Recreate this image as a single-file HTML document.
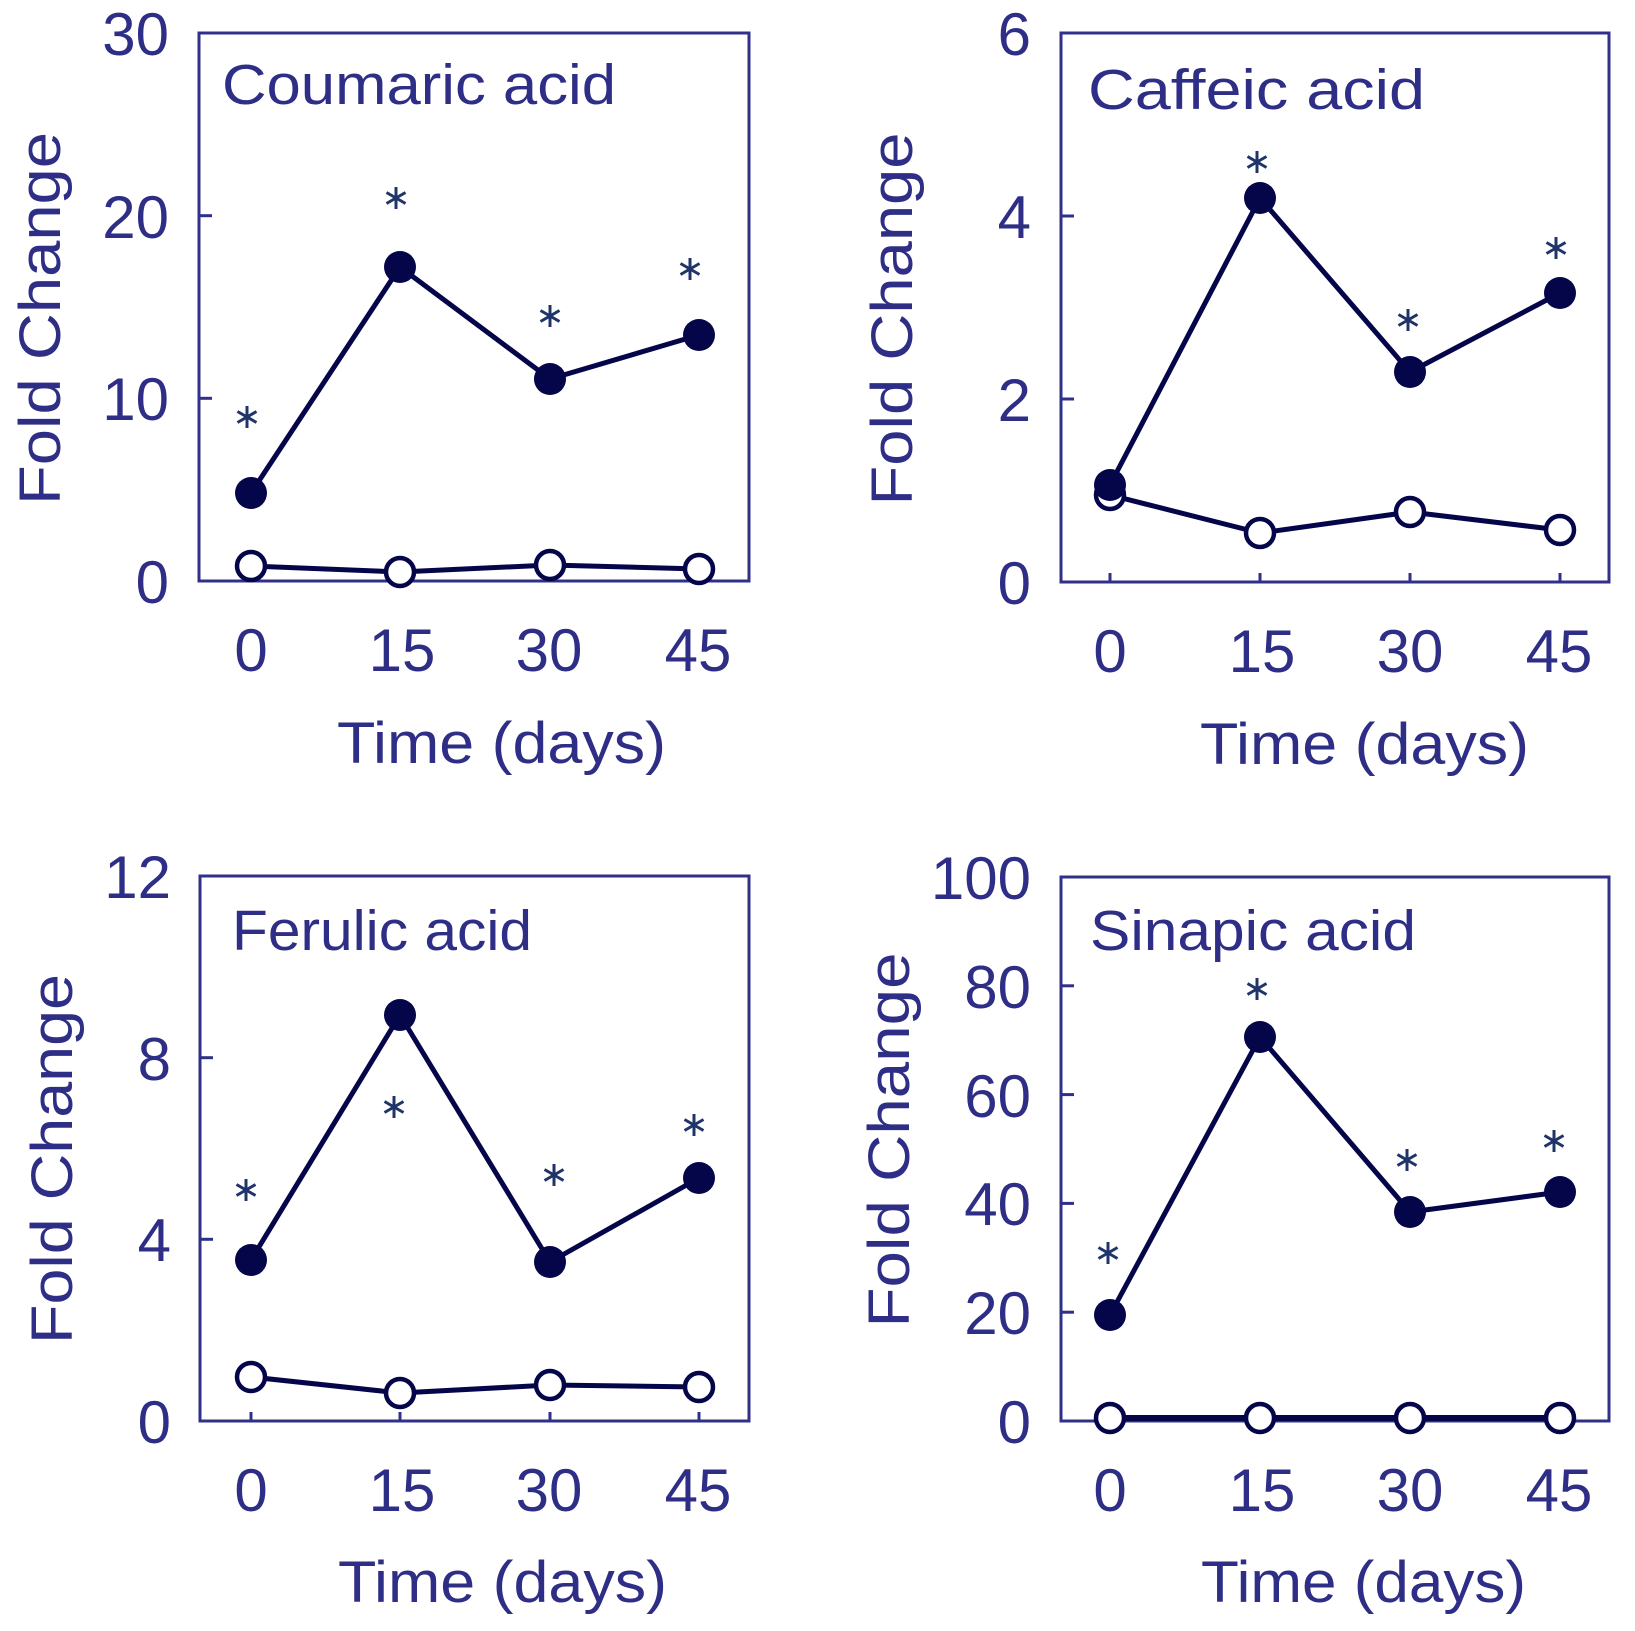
<!DOCTYPE html>
<html>
<head>
<meta charset="utf-8">
<style>
  html, body { margin: 0; padding: 0; background: #ffffff; }
  svg { display: block; }
  text { font-family: "Liberation Sans", "DejaVu Sans", sans-serif; fill: #2e2e86; }
</style>
</head>
<body>
<svg width="1635" height="1631" viewBox="0 0 1635 1631" xmlns="http://www.w3.org/2000/svg">
  <rect x="0" y="0" width="1635" height="1631" fill="#ffffff"/>

  <!-- ================= PANEL 1: Coumaric acid ================= -->
  <g>
    <rect x="199" y="33" width="550" height="548" fill="none" stroke="#30308a" stroke-width="3"/>
    <g stroke="#30308a" stroke-width="3">
      <line x1="199" y1="398.3" x2="212" y2="398.3"/>
      <line x1="199" y1="215.7" x2="212" y2="215.7"/>
      <line x1="251" y1="581" x2="251" y2="572"/>
      <line x1="400" y1="581" x2="400" y2="572"/>
      <line x1="550" y1="581" x2="550" y2="572"/>
      <line x1="699" y1="581" x2="699" y2="572"/>
    </g>
    <g font-size="60" text-anchor="end">
      <text x="169" y="603">0</text>
      <text x="169" y="420">10</text>
      <text x="169" y="238">20</text>
      <text x="169" y="55">30</text>
    </g>
    <g font-size="60" text-anchor="middle">
      <text x="251" y="671">0</text>
      <text x="402" y="671">15</text>
      <text x="549" y="671">30</text>
      <text x="698" y="671">45</text>
    </g>
    <text x="337" y="763" font-size="58" textLength="329" lengthAdjust="spacingAndGlyphs">Time (days)</text>
    <text transform="translate(60,318.5) rotate(-90)" font-size="58" text-anchor="middle" textLength="373" lengthAdjust="spacingAndGlyphs">Fold Change</text>
    <text x="222" y="104" font-size="57" textLength="394" lengthAdjust="spacingAndGlyphs">Coumaric acid</text>
    <polyline points="251,566 400,572 550,565 699,569" fill="none" stroke="#05054a" stroke-width="5" stroke-linejoin="round"/>
    <polyline points="251,493 400,267 550,379 699,335" fill="none" stroke="#05054a" stroke-width="5" stroke-linejoin="round"/>
    <g fill="#ffffff" stroke="#05054a" stroke-width="4.5">
      <circle cx="251" cy="566" r="14"/>
      <circle cx="400" cy="572" r="14"/>
      <circle cx="550" cy="565" r="14"/>
      <circle cx="699" cy="569" r="14"/>
    </g>
    <g fill="#05054a">
      <circle cx="251" cy="493" r="16"/>
      <circle cx="400" cy="267" r="16"/>
      <circle cx="550" cy="379" r="16"/>
      <circle cx="699" cy="335" r="16"/>
    </g>
  </g>

  <!-- ================= PANEL 2: Caffeic acid ================= -->
  <g>
    <rect x="1061" y="33" width="548" height="549" fill="none" stroke="#30308a" stroke-width="3"/>
    <g stroke="#30308a" stroke-width="3">
      <line x1="1061" y1="399" x2="1074" y2="399"/>
      <line x1="1061" y1="216" x2="1074" y2="216"/>
      <line x1="1110" y1="582" x2="1110" y2="573"/>
      <line x1="1260" y1="582" x2="1260" y2="573"/>
      <line x1="1410" y1="582" x2="1410" y2="573"/>
      <line x1="1560" y1="582" x2="1560" y2="573"/>
    </g>
    <g font-size="60" text-anchor="end">
      <text x="1031" y="604">0</text>
      <text x="1031" y="421">2</text>
      <text x="1031" y="238">4</text>
      <text x="1031" y="55">6</text>
    </g>
    <g font-size="60" text-anchor="middle">
      <text x="1110" y="672">0</text>
      <text x="1262" y="672">15</text>
      <text x="1410" y="672">30</text>
      <text x="1559" y="672">45</text>
    </g>
    <text x="1200" y="764" font-size="58" textLength="329" lengthAdjust="spacingAndGlyphs">Time (days)</text>
    <text transform="translate(912,319) rotate(-90)" font-size="58" text-anchor="middle" textLength="373" lengthAdjust="spacingAndGlyphs">Fold Change</text>
    <text x="1088" y="109" font-size="57" textLength="337" lengthAdjust="spacingAndGlyphs">Caffeic acid</text>
    <polyline points="1110,495 1260,533 1410,512 1560,530" fill="none" stroke="#05054a" stroke-width="5" stroke-linejoin="round"/>
    <polyline points="1110,485 1260,198 1410,372 1560,293" fill="none" stroke="#05054a" stroke-width="5" stroke-linejoin="round"/>
    <g fill="#ffffff" stroke="#05054a" stroke-width="4.5">
      <circle cx="1110" cy="495" r="14"/>
      <circle cx="1260" cy="533" r="14"/>
      <circle cx="1410" cy="512" r="14"/>
      <circle cx="1560" cy="530" r="14"/>
    </g>
    <g fill="#05054a">
      <circle cx="1110" cy="485" r="16"/>
      <circle cx="1260" cy="198" r="16"/>
      <circle cx="1410" cy="372" r="16"/>
      <circle cx="1560" cy="293" r="16"/>
    </g>
  </g>

  <!-- ================= PANEL 3: Ferulic acid ================= -->
  <g>
    <rect x="200" y="876" width="549" height="545" fill="none" stroke="#30308a" stroke-width="3"/>
    <g stroke="#30308a" stroke-width="3">
      <line x1="200" y1="1239.3" x2="213" y2="1239.3"/>
      <line x1="200" y1="1057.7" x2="213" y2="1057.7"/>
      <line x1="251" y1="1421" x2="251" y2="1412"/>
      <line x1="400" y1="1421" x2="400" y2="1412"/>
      <line x1="550" y1="1421" x2="550" y2="1412"/>
      <line x1="699" y1="1421" x2="699" y2="1412"/>
    </g>
    <g font-size="60" text-anchor="end">
      <text x="171" y="1443">0</text>
      <text x="171" y="1261">4</text>
      <text x="171" y="1080">8</text>
      <text x="171" y="898">12</text>
    </g>
    <g font-size="60" text-anchor="middle">
      <text x="251" y="1511">0</text>
      <text x="402" y="1511">15</text>
      <text x="549" y="1511">30</text>
      <text x="698" y="1511">45</text>
    </g>
    <text x="338" y="1602" font-size="58" textLength="329" lengthAdjust="spacingAndGlyphs">Time (days)</text>
    <text transform="translate(72,1159) rotate(-90)" font-size="58" text-anchor="middle" textLength="370" lengthAdjust="spacingAndGlyphs">Fold Change</text>
    <text x="232" y="950" font-size="57" textLength="300" lengthAdjust="spacingAndGlyphs">Ferulic acid</text>
    <polyline points="251,1377 400,1393 550,1385 699,1387" fill="none" stroke="#05054a" stroke-width="5" stroke-linejoin="round"/>
    <polyline points="251,1260 400,1015 550,1262 699,1178" fill="none" stroke="#05054a" stroke-width="5" stroke-linejoin="round"/>
    <g fill="#ffffff" stroke="#05054a" stroke-width="4.5">
      <circle cx="251" cy="1377" r="14"/>
      <circle cx="400" cy="1393" r="14"/>
      <circle cx="550" cy="1385" r="14"/>
      <circle cx="699" cy="1387" r="14"/>
    </g>
    <g fill="#05054a">
      <circle cx="251" cy="1260" r="16"/>
      <circle cx="400" cy="1015" r="16"/>
      <circle cx="550" cy="1262" r="16"/>
      <circle cx="699" cy="1178" r="16"/>
    </g>
  </g>

  <!-- ================= PANEL 4: Sinapic acid ================= -->
  <g>
    <rect x="1061" y="877" width="548" height="544" fill="none" stroke="#30308a" stroke-width="3"/>
    <g stroke="#30308a" stroke-width="3">
      <line x1="1061" y1="1312.2" x2="1074" y2="1312.2"/>
      <line x1="1061" y1="1203.4" x2="1074" y2="1203.4"/>
      <line x1="1061" y1="1094.6" x2="1074" y2="1094.6"/>
      <line x1="1061" y1="985.8" x2="1074" y2="985.8"/>
      <line x1="1110" y1="1421" x2="1110" y2="1412"/>
      <line x1="1260" y1="1421" x2="1260" y2="1412"/>
      <line x1="1410" y1="1421" x2="1410" y2="1412"/>
      <line x1="1560" y1="1421" x2="1560" y2="1412"/>
    </g>
    <g font-size="60" text-anchor="end">
      <text x="1031" y="1443">0</text>
      <text x="1031" y="1334">20</text>
      <text x="1031" y="1225">40</text>
      <text x="1031" y="1117">60</text>
      <text x="1031" y="1008">80</text>
      <text x="1031" y="899">100</text>
    </g>
    <g font-size="60" text-anchor="middle">
      <text x="1110" y="1511">0</text>
      <text x="1262" y="1511">15</text>
      <text x="1410" y="1511">30</text>
      <text x="1559" y="1511">45</text>
    </g>
    <text x="1201" y="1602" font-size="58" textLength="325" lengthAdjust="spacingAndGlyphs">Time (days)</text>
    <text transform="translate(909,1140) rotate(-90)" font-size="58" text-anchor="middle" textLength="375" lengthAdjust="spacingAndGlyphs">Fold Change</text>
    <text x="1090" y="950" font-size="57" textLength="326" lengthAdjust="spacingAndGlyphs">Sinapic acid</text>
    <polyline points="1110,1418 1260,1418 1410,1418 1560,1418" fill="none" stroke="#05054a" stroke-width="6" stroke-linejoin="round"/>
    <polyline points="1110,1315 1260,1037 1410,1212 1560,1192" fill="none" stroke="#05054a" stroke-width="5" stroke-linejoin="round"/>
    <g fill="#ffffff" stroke="#05054a" stroke-width="4.5">
      <circle cx="1110" cy="1418" r="14"/>
      <circle cx="1260" cy="1418" r="14"/>
      <circle cx="1410" cy="1418" r="14"/>
      <circle cx="1560" cy="1418" r="14"/>
    </g>
    <g fill="#05054a">
      <circle cx="1110" cy="1315" r="16"/>
      <circle cx="1260" cy="1037" r="16"/>
      <circle cx="1410" cy="1212" r="16"/>
      <circle cx="1560" cy="1192" r="16"/>
    </g>
  </g>

  <!-- ================= Asterisks ================= -->
  <defs>
    <g id="ast">
      <line x1="0" y1="-11" x2="0" y2="11"/>
      <line x1="-9.5" y1="-5.5" x2="9.5" y2="5.5"/>
      <line x1="-9.5" y1="5.5" x2="9.5" y2="-5.5"/>
    </g>
  </defs>
  <g stroke="#1f3468" stroke-width="3" stroke-linecap="butt">
    <use href="#ast" x="247" y="417"/>
    <use href="#ast" x="396" y="198"/>
    <use href="#ast" x="550" y="316"/>
    <use href="#ast" x="690" y="269"/>

    <use href="#ast" x="1257" y="162"/>
    <use href="#ast" x="1408" y="320"/>
    <use href="#ast" x="1556" y="248"/>

    <use href="#ast" x="246" y="1190"/>
    <use href="#ast" x="394" y="1107"/>
    <use href="#ast" x="554" y="1175"/>
    <use href="#ast" x="694" y="1125"/>

    <use href="#ast" x="1108" y="1253"/>
    <use href="#ast" x="1257" y="989"/>
    <use href="#ast" x="1407" y="1160"/>
    <use href="#ast" x="1554" y="1141"/>
  </g>
</svg>
</body>
</html>
